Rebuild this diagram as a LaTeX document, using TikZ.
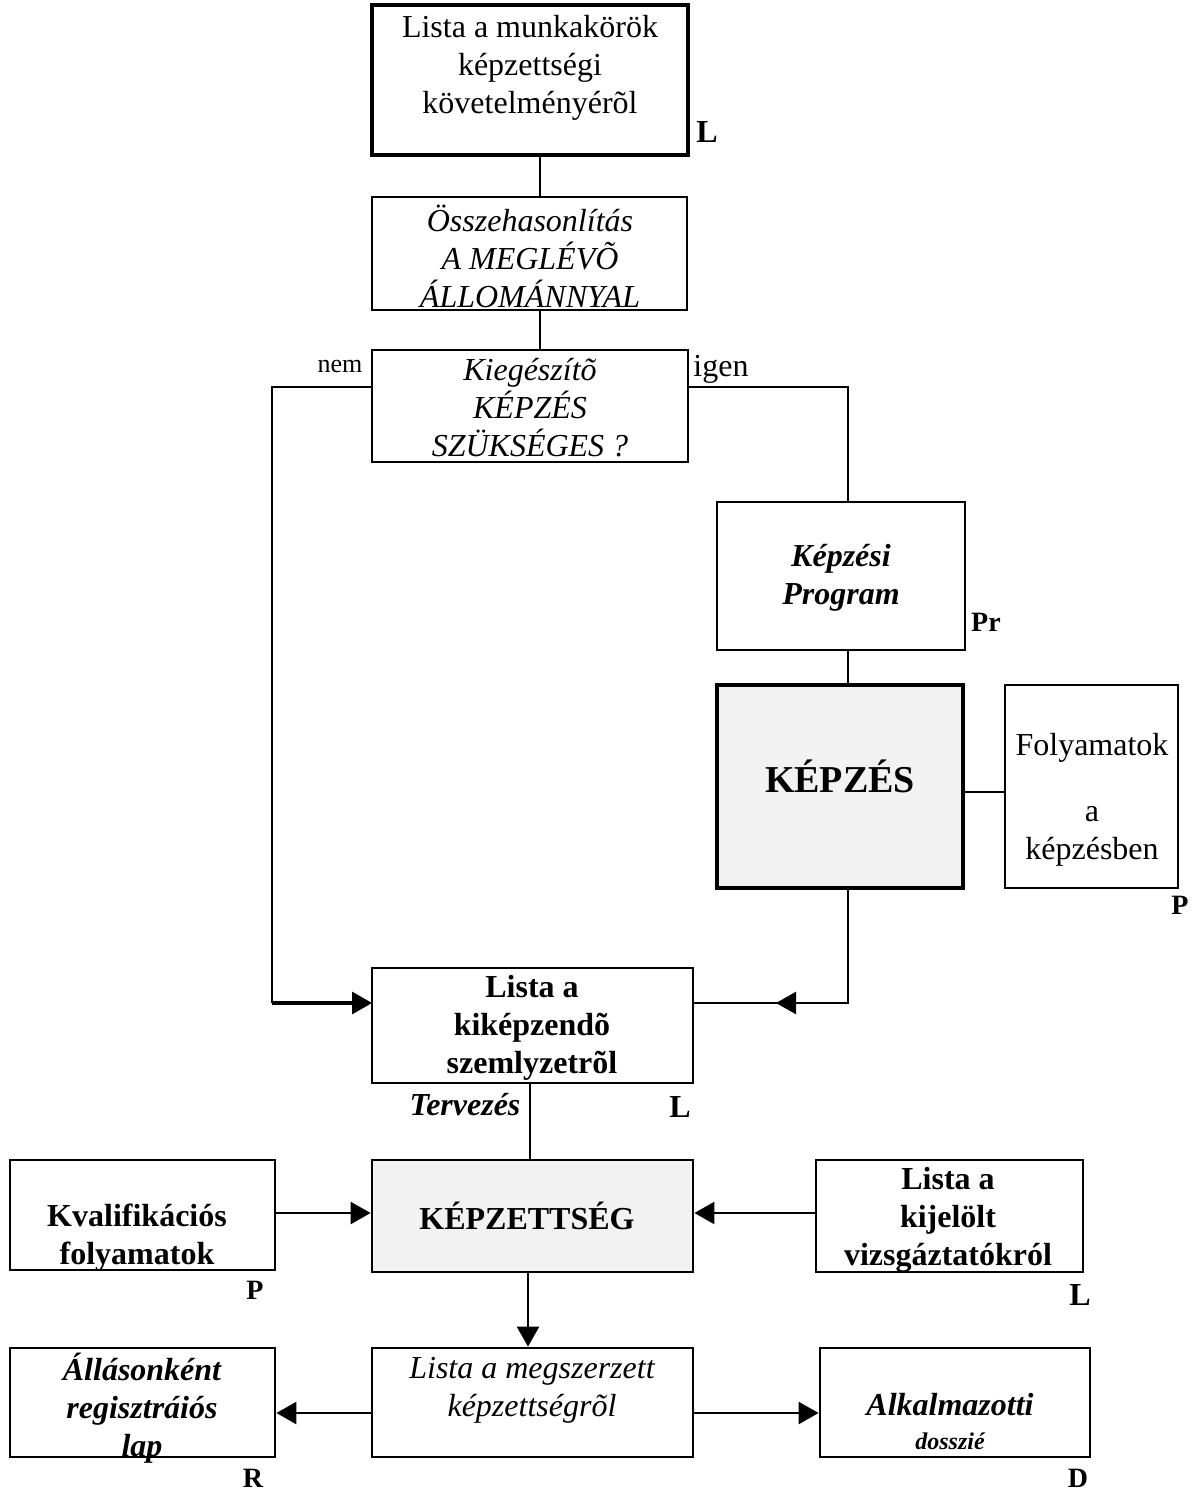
\documentclass[tikz,border=0pt]{standalone}
\usepackage{fontspec}
\setmainfont{Liberation Serif}
\usetikzlibrary{fit,arrows.meta}
\begin{document}
\begin{tikzpicture}[x=0.5pt,y=-0.5pt,
  box/.style={draw,inner sep=0pt,line width=1.4pt},
  thickbox/.style={draw,inner sep=0pt,line width=2pt},
  shaded/.style={fill={rgb,255:red,242;green,242;blue,242}},
  txt/.style={align=center,inner sep=0pt,font=\fontsize{16}{19}\selectfont},
  btxt/.style={txt,font=\fontsize{16}{19}\selectfont\bfseries},
  itxt/.style={txt,font=\fontsize{16}{19}\selectfont\itshape},
  bitxt/.style={txt,font=\fontsize{16}{19}\selectfont\bfseries\itshape},
  tag/.style={inner sep=0pt,font=\fontsize{14}{16}\selectfont\bfseries},
  conn/.style={line width=1.2pt},
  arr/.style={line width=1.2pt,-{Triangle[length=10pt,width=11pt]}}]
\useasboundingbox (0,0) rectangle (1191,1494);

% boxes
\node[thickbox,fit={(372,5) (688,155)}] (req) {};
\node[box,fit={(372,197) (687,310)}] (cmp) {};
\node[box,fit={(372,350) (688,462)}] (need) {};
\node[box,fit={(717,502) (965,650)}] (prog) {};
\node[thickbox,shaded,fit={(717,685) (963,888)}] (train) {};
\node[box,fit={(1005,685) (1178,888)}] (proc) {};
\node[box,fit={(372,968) (693,1083)}] (trainees) {};
\node[box,fit={(10,1160) (275,1270)}] (qual) {};
\node[box,shaded,fit={(372,1160) (693,1272)}] (skill) {};
\node[box,fit={(816,1160) (1083,1272)}] (exam) {};
\node[box,fit={(10,1348) (275,1457)}] (reg) {};
\node[box,fit={(372,1348) (693,1457)}] (got) {};
\node[box,fit={(820,1348) (1090,1457)}] (file) {};

% texts
\node[txt] (reqT) at (530,68) {Lista a munkakörök\\képzettségi\\követelményérõl};
\node[itxt] (cmpT) at (530,256) {Összehasonlítás\\A MEGLÉVÕ\\ÁLLOMÁNNYAL};
\node[itxt] (needT) at (530,408) {Kiegészítõ\\KÉPZÉS\\SZÜKSÉGES ?};
\node[bitxt] (progT) at (841,578) {Képzési\\Program};
\node[txt,font=\fontsize{19}{22}\selectfont\bfseries] (trainT) at (840,776) {KÉPZÉS};
\node[txt] (procT) at (1092,800) {Folyamatok\\[14pt]a\\képzésben};
\node[btxt] (traineesT) at (532,1028) {Lista a\\kiképzendõ\\szemlyzetrõl};
\node[btxt] (qualT) at (137,1238) {Kvalifikációs\\folyamatok};
\node[btxt] (skillT) at (527,1216) {KÉPZETTSÉG};
\node[btxt] (examT) at (948,1220) {Lista a\\kijelölt\\vizsgáztatókról};
\node[bitxt] (regT) at (142,1408) {Állásonként\\regisztráiós\\lap};
\node[itxt] (gotT) at (532,1390) {Lista a megszerzett\\képzettségrõl};
\node[txt] (fileT) at (950,1421) {\bfseries\itshape Alkalmazotti\\[-2pt]{\fontsize{12}{14}\selectfont\bfseries\itshape dosszié}};

% side tags
\node[tag,font=\fontsize{16}{18}\selectfont\bfseries] (tagL1) at (707,132) {L};
\node[tag] (tagPr) at (986,622) {Pr};
\node[tag] (tagP1) at (1180,905) {P};
\node[tag,font=\fontsize{16}{18}\selectfont\bfseries] (tagL2) at (680,1107) {L};
\node[tag,font=\fontsize{16}{18}\selectfont\bfseries\itshape] (plan) at (465,1105) {Tervezés};
\node[tag] (tagP2) at (255,1290) {P};
\node[tag,font=\fontsize{16}{18}\selectfont\bfseries] (tagL3) at (1080,1295) {L};
\node[tag] (tagR) at (253,1478) {R};
\node[tag] (tagD) at (1078,1478) {D};
\node[inner sep=0pt,font=\fontsize{13}{15}\selectfont] (no) at (340,366) {nem};
\node[inner sep=0pt,font=\fontsize{16}{18}\selectfont] (yes) at (721,369) {igen};

% connection points
\coordinate (reqOut) at (540,155);
\coordinate (cmpOut) at (540,310);
\coordinate (needL) at (372,387);
\coordinate (needR) at (688,387);
\coordinate (noCorner) at (272,387);
\coordinate (noTurn) at (272,1003);
\coordinate (noIn) at (372,1003);
\coordinate (yesCorner) at (848,387);
\coordinate (progIn) at (848,502);
\coordinate (progOut) at (848,650);
\coordinate (trainIn) at (848,685);
\coordinate (trainOut) at (848,888);
\coordinate (yesTurn) at (848,1003);
\coordinate (yesTip) at (776,1003);
\coordinate (yesIn) at (693,1003);
\coordinate (trainR) at (963,792);
\coordinate (procL) at (1005,792);
\coordinate (skillIn) at (530,1160);
\coordinate (skillOut) at (528,1272);

% connectors
\draw[conn] (reqOut) -- (reqOut |- cmp.north);
\draw[conn] (cmpOut) -- (cmpOut |- need.north);
\draw[conn] (needL) -- (noCorner) -- (noTurn);
\draw[arr,line width=1.6pt] (noTurn) -- (noIn);
\draw[conn] (needR) -- (yesCorner) -- (progIn);
\draw[conn] (progOut) -- (trainIn);
\draw[conn] (trainR) -- (procL);
\draw[conn] (trainOut) -- (yesTurn) -- (yesIn);
\draw[arr] (yesTurn) -- (yesTip);
\draw[conn] (skillIn |- trainees.south) -- (skillIn);
\draw[arr] (qual.east |- 0,1213) -- (skill.west |- 0,1213);
\draw[arr] (exam.west |- 0,1213) -- (skill.east |- 0,1213);
\draw[arr] (skillOut) -- (skillOut |- got.north);
\draw[arr] (got.west |- 0,1413) -- (reg.east |- 0,1413);
\draw[arr] (got.east |- 0,1413) -- (file.west |- 0,1413);
\end{tikzpicture}
\end{document}
